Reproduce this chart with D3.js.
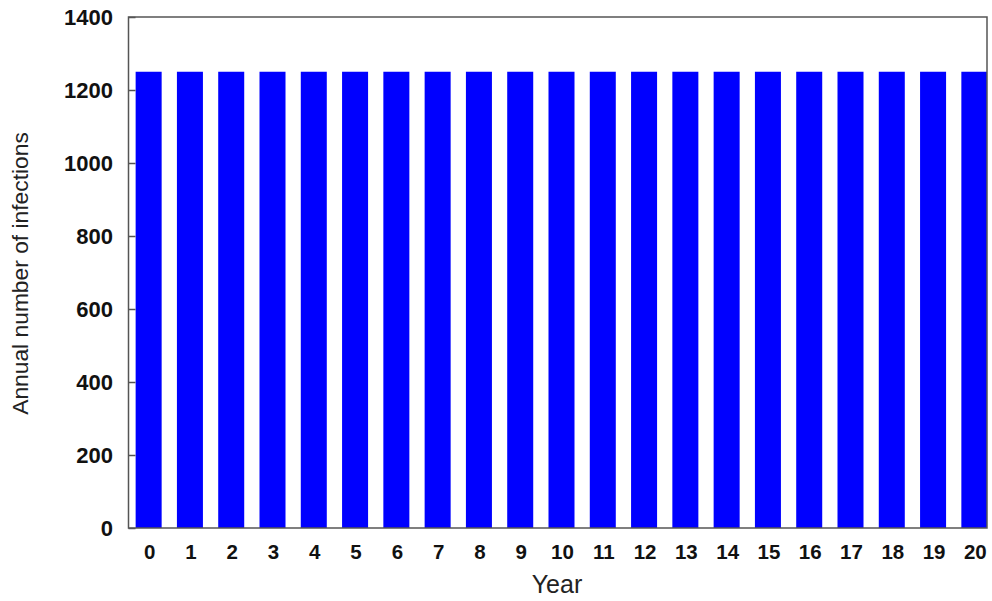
<!DOCTYPE html>
<html><head><meta charset="utf-8">
<script src="https://cdn.jsdelivr.net/npm/d3@7"></script>
<style>body{margin:0;background:#fff}svg{display:block}</style>
</head><body>
<svg id="c" width="992" height="601"></svg>
<script>
const years = ["0","1","2","3","4","5","6","7","8","9","10","11","12","13","14","15","16","17","18","19","20"];
const infections = [1250,1250,1250,1250,1250,1250,1250,1250,1250,1250,1250,1250,1250,1250,1250,1250,1250,1250,1250,1250,1250];
const yTicks = [0,200,400,600,800,1000,1200,1400];
const yTitle = "Annual number of infections";
const xTitle = "Year";

const svg = d3.select("#c");
const L = 128.5, R = 987, T = 17, B = 528;
const x = d3.scaleBand().domain(years).range([128, 995]).paddingInner(0.37).paddingOuter(0.185);
const y = d3.scaleLinear().domain([0,1400]).range([B, T]);

svg.append("defs").append("clipPath").attr("id","clip")
  .append("rect").attr("x",L).attr("y",T).attr("width",R-L).attr("height",B-T);

svg.append("g").attr("clip-path","url(#clip)")
  .selectAll("rect").data(years).join("rect")
  .attr("x", d => x(d)).attr("width", x.bandwidth())
  .attr("y", (d,i) => y(infections[i])).attr("height", (d,i) => y(0) - y(infections[i]))
  .attr("fill", "#0000ff");

// frame
svg.append("rect").attr("x",L).attr("y",T).attr("width",R-L).attr("height",B-T)
  .attr("fill","none").attr("stroke","#555").attr("stroke-width",1.5);

// y axis
const ya = svg.append("g").attr("transform",`translate(${L},0)`)
  .call(d3.axisRight(y).tickValues(yTicks).tickSize(7).tickFormat(""));
ya.select(".domain").remove();
ya.selectAll("line").attr("stroke","#555").attr("stroke-width",1.5);

svg.append("g").selectAll("text").data(yTicks).join("text")
  .attr("x", 113).attr("y", d => y(d)).attr("dy","0.36em")
  .attr("text-anchor","end")
  .style("font-family","'Liberation Sans', Arial, sans-serif")
  .style("font-weight","bold").style("font-size","22px").attr("fill","#111")
  .text(d => d);

// x labels
svg.append("g").selectAll("text").data(years).join("text")
  .attr("x", d => x(d) + x.bandwidth()/2 + 1).attr("y", 559)
  .attr("text-anchor","middle")
  .style("font-family","'Liberation Sans', Arial, sans-serif")
  .style("font-weight","bold").style("font-size","20.5px").attr("fill","#111")
  .text(d => d);

svg.append("text").attr("x", 557).attr("y", 593).attr("text-anchor","middle")
  .style("font-family","'Liberation Sans', Arial, sans-serif").style("font-size","25px").attr("fill","#222")
  .text(xTitle);

svg.append("text").attr("transform","translate(28,273.5) rotate(-90)").attr("text-anchor","middle")
  .style("font-family","'Liberation Sans', Arial, sans-serif").style("font-size","22.8px").attr("fill","#222")
  .text(yTitle);
</script>
</body></html>
